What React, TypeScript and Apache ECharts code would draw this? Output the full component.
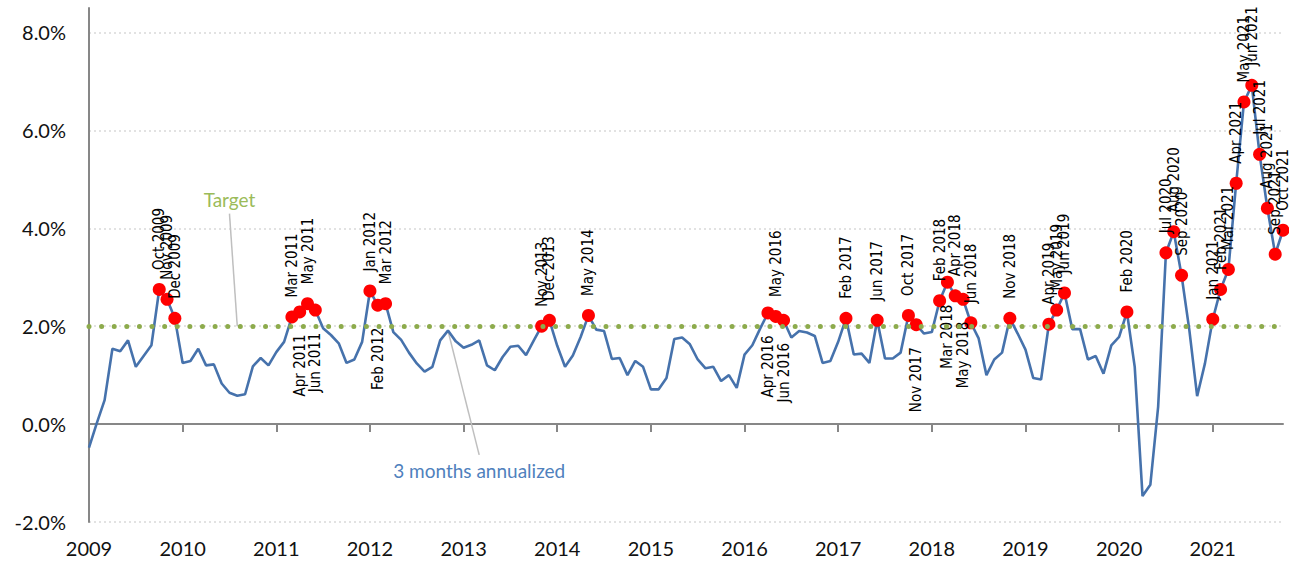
import React, { useEffect, useRef } from "react";
import * as echarts from "echarts";

const YEARS = [2009, 2010, 2011, 2012, 2013, 2014, 2015, 2016, 2017, 2018, 2019, 2020, 2021];
const MONTHS = ["Jan", "Feb", "Mar", "Apr", "May", "Jun", "Jul", "Aug", "Sep", "Oct", "Nov", "Dec"];

// 3 months annualized inflation, % (monthly)
const V2009 = [-0.48, 0.02, 0.49, 1.54, 1.49, 1.71, 1.17, 1.39, 1.61, 2.75, 2.55, 2.16];
const V2010 = [1.25, 1.29, 1.54, 1.2, 1.22, 0.83, 0.64, 0.58, 0.61, 1.18, 1.35, 1.2];
const V2011 = [1.47, 1.68, 2.19, 2.29, 2.46, 2.33, 1.96, 1.82, 1.65, 1.25, 1.32, 1.68];
const V2012 = [2.72, 2.43, 2.46, 1.88, 1.72, 1.46, 1.24, 1.07, 1.17, 1.71, 1.91, 1.69];
const V2013 = [1.56, 1.62, 1.71, 1.2, 1.1, 1.37, 1.58, 1.6, 1.41, 1.71, 2.0, 2.12];
const V2014 = [1.6, 1.17, 1.4, 1.78, 2.22, 1.93, 1.9, 1.33, 1.35, 1.0, 1.29, 1.17];
const V2015 = [0.71, 0.71, 0.94, 1.74, 1.77, 1.63, 1.32, 1.14, 1.17, 0.88, 1.0, 0.74];
const V2016 = [1.42, 1.61, 1.95, 2.27, 2.2, 2.12, 1.77, 1.9, 1.87, 1.8, 1.25, 1.29];
const V2017 = [1.68, 2.16, 1.42, 1.44, 1.25, 2.12, 1.34, 1.34, 1.46, 2.22, 2.03, 1.85];
const V2018 = [1.88, 2.52, 2.9, 2.62, 2.55, 2.07, 1.75, 1.0, 1.32, 1.46, 2.16, 1.85];
const V2019 = [1.52, 0.94, 0.91, 2.04, 2.33, 2.68, 1.94, 1.94, 1.32, 1.39, 1.03, 1.61];
const V2020 = [1.78, 2.29, 1.17, -1.47, -1.24, 0.35, 3.5, 3.93, 3.04, 1.92, 0.57, 1.24];
const V2021 = [2.14, 2.75, 3.16, 4.92, 6.58, 6.92, 5.51, 4.41, 3.47, 3.96];
const VALUES_BY_YEAR = [V2009, V2010, V2011, V2012, V2013, V2014, V2015, V2016, V2017, V2018, V2019, V2020, V2021];

// Months marked above target, label above the dot
const LABELS_TOP = [
  "Oct 2009", "Nov 2009", "Dec 2009",
  "Mar 2011", "May 2011",
  "Jan 2012", "Mar 2012",
  "Nov 2013", "Dec 2013", "May 2014",
  "May 2016",
  "Feb 2017", "Jun 2017", "Oct 2017",
  "Feb 2018", "Apr 2018", "Jun 2018", "Nov 2018",
  "Apr 2019", "May 2019", "Jun 2019",
  "Feb 2020", "Jul 2020", "Aug 2020", "Sep 2020",
  "Jan 2021", "Feb 2021", "Mar 2021", "Apr 2021", "May 2021", "Jun 2021",
  "Jul 2021", "Aug 2021", "Sep 2021", "Oct 2021",
];
// Months marked above target, label below the dot
const LABELS_BOTTOM = ["Apr 2011", "Jun 2011", "Feb 2012", "Apr 2016", "Jun 2016", "Nov 2017", "Mar 2018", "May 2018"];

const TARGET = 2;
const Y_MIN = -2;
const Y_MAX = 8.5;
const Y_STEP = 2;

const CATEGORIES = YEARS.flatMap((y, k) => MONTHS.slice(0, VALUES_BY_YEAR[k].length).map((m) => `${m} ${y}`));
const VALUES = VALUES_BY_YEAR.flat();

const LABEL_FONT = "'Liberation Sans Narrow', 'DejaVu Sans Condensed', 'Arial Narrow', sans-serif";
const AXIS_FONT = "Lato, 'Open Sans', sans-serif";

export default function App() {
  const ref = useRef<HTMLDivElement>(null);

  useEffect(() => {
    if (!ref.current) return;
    const chart = echarts.init(ref.current, undefined, { renderer: "svg" });

    const dots: any[] = [];
    CATEGORIES.forEach((c, i) => {
      const top = LABELS_TOP.includes(c);
      const bottom = LABELS_BOTTOM.includes(c);
      if (!top && !bottom) return;
      dots.push({
        name: c,
        value: [i, VALUES[i]],
        label: top
          ? { position: "top", align: "left", verticalAlign: "middle", distance: 13 }
          : { position: "bottom", align: "right", verticalAlign: "middle", distance: 16 },
      });
    });

    const yearTick = (i: number) => i % 12 === 0;

    chart.setOption({
      animation: false,
      grid: { left: 89, right: 6, top: 8, bottom: 44, containLabel: false, outerBoundsMode: "none" },
      xAxis: [
        {
          type: "category",
          data: CATEGORIES,
          boundaryGap: false,
          axisLine: { onZero: true, lineStyle: { color: "#878787", width: 2 } },
          axisTick: { show: true, interval: yearTick, length: 8, lineStyle: { color: "#878787", width: 2 } },
          axisLabel: { show: false },
          splitLine: { show: false },
        },
        {
          type: "category",
          data: CATEGORIES,
          position: "bottom",
          boundaryGap: false,
          axisLine: { show: false, onZero: false },
          axisTick: { show: false },
          axisLabel: {
            interval: yearTick,
            formatter: (v: string) => v.split(" ")[1],
            margin: 16,
            fontSize: 20,
            color: "#111",
            fontFamily: AXIS_FONT,
          },
          splitLine: { show: false },
        },
      ],
      yAxis: {
        type: "value",
        min: Y_MIN,
        max: Y_MAX,
        interval: Y_STEP,
        axisLine: { show: true, lineStyle: { color: "#878787", width: 2 } },
        axisTick: { show: false },
        axisLabel: {
          formatter: (v: number) => (Math.abs(v % Y_STEP) < 1e-9 ? v.toFixed(1) + "%" : ""),
          showMaxLabel: false,
          margin: 23,
          fontSize: 20,
          color: "#111",
          fontFamily: AXIS_FONT,
        },
        splitLine: {
          show: true,
          showMaxLine: false,
          lineStyle: { color: "#D9D9D9", type: [2, 3], width: 1.5 },
        },
      },
      series: [
        {
          type: "line",
          xAxisIndex: 0,
          data: VALUES,
          showSymbol: false,
          symbol: "none",
          lineStyle: { color: "#4672AC", width: 2.6 },
          z: 2,
          markLine: {
            silent: true,
            symbol: ["none", "none"],
            label: { show: false },
            lineStyle: { color: "#8DAB4C", width: 5, type: [0.01, 12.6], cap: "round" },
            data: [{ yAxis: TARGET }],
          },
        },
        {
          type: "scatter",
          xAxisIndex: 0,
          data: dots,
          symbolSize: 13,
          itemStyle: { color: "#FF0000", opacity: 1 },
          z: 4,
          label: {
            show: true,
            rotate: 90,
            formatter: "{b}",
            fontSize: 15,
            color: "#000",
            fontFamily: LABEL_FONT,
          },
        },
      ],
    });

    const px = (p: [number, number]) => chart.convertToPixel({ xAxisIndex: 0, yAxisIndex: 0 }, p) as number[];
    const targetText = px([17.9, 4.59]);
    const tA = px([17.7, 4.3]);
    const tB = px([19.1, TARGET]);
    const seriesText = px([50.2, -0.94]);
    const sA = px([46, V2012[10]]);
    const sB = px([50.2, -0.63]);

    chart.setOption({
      graphic: [
        { type: "line", shape: { x1: tA[0], y1: tA[1], x2: tB[0], y2: tB[1] }, style: { stroke: "#BFBFBF", lineWidth: 1.5 }, z: 1 },
        { type: "line", shape: { x1: sA[0], y1: sA[1], x2: sB[0], y2: sB[1] }, style: { stroke: "#BFBFBF", lineWidth: 1.5 }, z: 1 },
        {
          type: "text",
          x: targetText[0],
          y: targetText[1],
          style: { text: "Target", fill: "#9BBB59", font: `19px ${AXIS_FONT}`, align: "center", verticalAlign: "middle" },
        },
        {
          type: "text",
          x: seriesText[0],
          y: seriesText[1],
          style: { text: "3 months annualized", fill: "#4F81BD", font: `19px ${AXIS_FONT}`, align: "center", verticalAlign: "middle" },
        },
      ],
    });

    return () => chart.dispose();
  }, []);

  return <div ref={ref} style={{ width: 1289, height: 566, position: "absolute", left: 0, top: 0 }} />;
}
